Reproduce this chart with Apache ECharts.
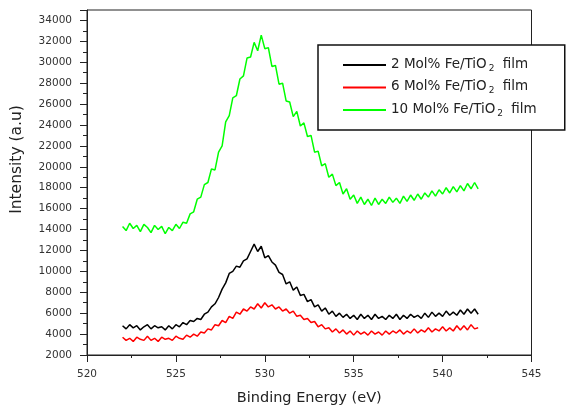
<!DOCTYPE html>
<html>
<head>
<meta charset="utf-8">
<script src="https://cdn.jsdelivr.net/npm/echarts@6/dist/echarts.min.js"></script>
<style>html,body{margin:0;padding:0;background:#fff;}#c{width:575px;height:406px;}</style>
</head>
<body>
<div id="c"></div>
<script>
// Binding energy grid of the scans (eV)
const energyStart = 522.0;
const energyStep = 0.2;

const seriesNames = ['2 Mol% Fe/TiO2 film', '6 Mol% Fe/TiO2 film', '10 Mol% Fe/TiO2 film'];
const seriesColors = ['#000000', '#ff0000', '#00ff00'];

const black2 = [
  4800, 4500, 4900, 4600, 4800, 4400, 4700, 4900, 4500, 4800,
  4600, 4700, 4400, 4800, 4500, 4900, 4700, 5100, 4900, 5300,
  5200, 5500, 5400, 5900, 6100, 6600, 6900, 7500, 8300, 8900,
  9800, 10000, 10500, 10400, 11000, 11200, 11900, 12600, 11900, 12400,
  11300, 11500, 10900, 10600, 9900, 9700, 8800, 9000, 8200, 8500,
  7700, 7800, 7100, 7300, 6600, 6800, 6200, 6500, 5900, 6200,
  5700, 6000, 5600, 5900, 5500, 5800, 5400, 5900, 5500, 5800,
  5400, 5900, 5500, 5700, 5400, 5800, 5500, 5900, 5400, 5800,
  5500, 5900, 5600, 5800, 5500, 6000, 5600, 6100, 5700, 6000,
  5700, 6200, 5800, 6100, 5800, 6300, 5900, 6400, 6000, 6400,
  5900
];

const red6 = [
  3700, 3400, 3600, 3300, 3700, 3500, 3400, 3800, 3400, 3600,
  3300, 3700, 3500, 3600, 3400, 3800, 3600, 3500, 3900, 3700,
  4000, 3800, 4200, 4100, 4500, 4400, 4900, 4800, 5300, 5100,
  5700, 5500, 6100, 5900, 6400, 6200, 6600, 6400, 6900, 6500,
  7000, 6600, 6800, 6400, 6600, 6200, 6400, 6000, 6200, 5700,
  5800, 5400, 5500, 5100, 5200, 4700, 4900, 4500, 4600, 4200,
  4500, 4100, 4400, 4000, 4300, 3900, 4300, 4000, 4200, 3900,
  4300, 4000, 4200, 3900, 4300, 4000, 4300, 4100, 4400, 4000,
  4300, 4100, 4500, 4100, 4400, 4200, 4600, 4200, 4500, 4300,
  4700, 4300, 4600, 4300, 4800, 4400, 4800, 4400, 4900, 4500,
  4600
];

const green10 = [
  14300, 13900, 14600, 14100, 14400, 13800, 14500, 14200, 13700, 14400,
  14000, 14300, 13600, 14200, 13900, 14500, 14100, 14700, 14600, 15500,
  15700, 16900, 17100, 18300, 18500, 19800, 19700, 21400, 22000, 24300,
  24900, 26600, 26800, 28400, 28700, 30400, 30500, 31900, 31100, 32600,
  31300, 31400, 29600, 29700, 27900, 28000, 26300, 26200, 24800, 25300,
  23900, 24200, 22900, 23000, 21400, 21500, 20100, 20300, 19000, 19300,
  18200, 18500, 17400, 17900, 16900, 17300, 16500, 17100, 16400, 16900,
  16300, 17000, 16400, 16900, 16500, 17100, 16600, 17000, 16500, 17200,
  16700, 17300, 16800, 17400, 16900, 17500, 17100, 17700, 17200, 17800,
  17400, 18000, 17500, 18100, 17600, 18200, 17700, 18400, 17900, 18500,
  17900
];

const seriesValues = [black2, red6, green10];

function toPairs(vals) {
  return vals.map((v, i) => [+(energyStart + i * energyStep).toFixed(2), v]);
}

const FONT = 'DejaVu Sans';
const chart = echarts.init(document.getElementById('c'), null, { renderer: 'canvas' });

chart.setOption({
  animation: false,
  backgroundColor: '#fff',
  grid: {
    left: 87, right: 43.5, top: 10, bottom: 51,
    containLabel: false, outerBoundsMode: 'none',
    show: true, borderColor: '#222', borderWidth: 1, backgroundColor: 'transparent'
  },
  xAxis: {
    type: 'value', min: 520, max: 545, interval: 5,
    name: 'Binding Energy (eV)', nameLocation: 'middle', nameGap: 36,
    nameTextStyle: { fontFamily: FONT, fontSize: 14.5, color: '#222' },
    axisLine: { show: true, lineStyle: { color: '#222', width: 1 } },
    axisTick: { show: true, inside: false, length: 7, lineStyle: { color: '#222' } },
    minorTick: { show: true, splitNumber: 2, length: 3, lineStyle: { color: '#222' } },
    splitLine: { show: false },
    axisLabel: { fontFamily: FONT, fontSize: 10.5, color: '#333', margin: 14 }
  },
  yAxis: {
    type: 'value', min: 2000, max: 35000, interval: 2000,
    name: 'Intensity (a.u)', nameLocation: 'middle', nameGap: 62, nameRotate: 90,
    nameTextStyle: { fontFamily: FONT, fontSize: 15.5, color: '#222', padding: [0, 0, 0, 46] },
    axisLine: { show: true, lineStyle: { color: '#222', width: 1 } },
    axisTick: { show: true, inside: false, length: 7, lineStyle: { color: '#222' } },
    minorTick: { show: true, splitNumber: 2, length: 4, lineStyle: { color: '#222' } },
    splitLine: { show: false },
    axisLabel: {
      fontFamily: FONT, fontSize: 10.5, color: '#333', margin: 15, showMaxLabel: false,
      formatter: function (v) { return String(v); }
    }
  },
  legend: {
    orient: 'vertical', left: 318, top: 45,
    padding: [7, 28, 12, 25],
    itemGap: 1.5, itemWidth: 43, itemHeight: 2,
    icon: 'rect',
    borderColor: '#111', borderWidth: 1.5, backgroundColor: '#fff',
    data: seriesNames,
    formatter: function (n) {
      const parts = n.split('TiO2');
      return '{n|' + parts[0] + 'TiO}{s|2}{n|' + parts[1] + '}';
    },
    textStyle: {
      fontFamily: FONT, fontSize: 13.5, color: '#222',
      rich: {
        n: { fontFamily: FONT, fontSize: 13.5, color: '#222', lineHeight: 16, verticalAlign: 'top' },
        s: { fontFamily: FONT, fontSize: 9, color: '#222', lineHeight: 6, padding: [12, 4, 0, 2], verticalAlign: 'bottom' }
      }
    }
  },
  series: seriesNames.map((name, k) => ({
    name: name, type: 'line', data: toPairs(seriesValues[k]),
    showSymbol: false, symbol: 'none',
    lineStyle: { color: seriesColors[k], width: 1.5 },
    itemStyle: { color: seriesColors[k] },
    z: 3
  }))
});
</script>
</body>
</html>
